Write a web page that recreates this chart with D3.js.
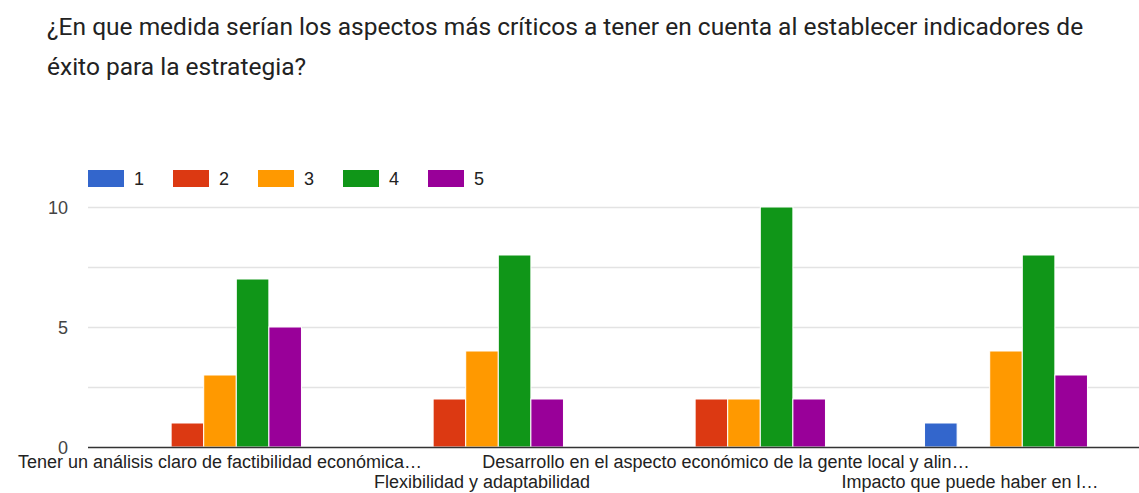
<!DOCTYPE html>
<html>
<head>
<meta charset="utf-8">
<script src="https://cdn.jsdelivr.net/npm/d3@7"></script>
<style>
	body { margin: 0; background: #fff; }
	svg { display: block; font-family: "Liberation Sans", Arial, sans-serif; }
</style>
</head>
<body>
<svg id="chart" width="1139" height="493"></svg>
<script>
(function () {
	const titleLines = ["¿En que medida serían los aspectos más críticos a tener en cuenta al establecer indicadores de", "éxito para la estrategia?"];
	const categories = [
		"Tener un análisis claro de factibilidad económica…",
		"Flexibilidad y adaptabilidad",
		"Desarrollo en el aspecto económico de la gente local y alin…",
		"Impacto que puede haber en l…"
	];
	const seriesNames = ["1", "2", "3", "4", "5"];
	const seriesColors = ["#3366cc", "#dc3912", "#ff9900", "#109618", "#990099"];
	// values per category, one per series 1..5
	const values1 = [0, 1, 3, 7, 5];
	const values2 = [0, 2, 4, 8, 2];
	const values3 = [0, 2, 2, 10, 2];
	const values4 = [1, 0, 4, 8, 3];
	const yTicks = [0, 5, 10];
	const yGrid = [2.5, 5, 7.5, 10];

	const allValues = [values1, values2, values3, values4];

	let svg = d3.select("#chart");

	// title
	svg.selectAll(".title")
		.data(titleLines)
		.enter()
		.append("text")
		.attr("class", "title")
		.attr("x", 47)
		.attr("y", function (d, i) { return 35 + i * 40; })
		.style("font-family", "Roboto, sans-serif")
		.style("font-size", "24.5px")
		.style("fill", "#222")
		.text(function (d) { return d; });

	let x0 = d3.scaleBand().domain(categories).range([89, 1137]);
	let x1 = d3.scaleBand().domain(seriesNames).range([0, x0.bandwidth()]).paddingOuter(1.52);
	let y = d3.scaleLinear().domain([0, 10]).range([447, 207]);

	// grid
	svg.selectAll(".grid")
		.data(yGrid)
		.enter()
		.append("line")
		.attr("x1", 88)
		.attr("x2", 1139)
		.attr("y1", function (d) { return y(d) + 0.5; })
		.attr("y2", function (d) { return y(d) + 0.5; })
		.style("stroke", "#e3e3e3")
		.style("stroke-width", 1.5);

	// y labels
	svg.selectAll(".ylab")
		.data(yTicks)
		.enter()
		.append("text")
		.attr("x", 68)
		.attr("y", function (d) { return y(d) + 6.5; })
		.attr("text-anchor", "end")
		.style("font-size", "18px")
		.style("fill", "#444")
		.text(function (d) { return d; });

	// bars
	let groups = svg.selectAll(".group")
		.data(categories)
		.enter()
		.append("g")
		.attr("transform", function (d) { return "translate(" + x0(d) + ",0)"; });

	groups.selectAll("rect")
		.data(function (d, i) {
			return allValues[i].map(function (v, j) { return { key: seriesNames[j], value: v, color: seriesColors[j] }; });
		})
		.enter()
		.filter(function (d) { return d.value > 0; })
		.append("rect")
		.attr("x", function (d) { return x1(d.key); })
		.attr("width", x1.bandwidth())
		.attr("y", function (d) { return y(d.value); })
		.attr("height", function (d) { return y(0) - y(d.value); })
		.style("fill", function (d) { return d.color; })
		.style("stroke", "#fff")
		.style("stroke-width", 1);

	// baseline
	svg.append("line")
		.attr("x1", 88)
		.attr("x2", 1139)
		.attr("y1", y(0) + 0.5)
		.attr("y2", y(0) + 0.5)
		.style("stroke", "#333")
		.style("stroke-width", 1.5);

	// x labels, alternating rows
	const labelDx = [0, 0, -18, -36];
	svg.selectAll(".xlab")
		.data(categories)
		.enter()
		.append("text")
		.attr("x", function (d, i) { return x0(d) + x0.bandwidth() / 2 + labelDx[i]; })
		.attr("y", function (d, i) { return i % 2 == 0 ? 468 : 488; })
		.attr("text-anchor", "middle")
		.style("font-size", "18px")
		.style("fill", "#222")
		.text(function (d) { return d; });

	// legend
	let legend = svg.selectAll(".legend")
		.data(seriesNames)
		.enter()
		.append("g")
		.attr("transform", function (d, i) { return "translate(" + (88 + i * 85) + ",170)"; });

	legend.append("rect")
		.attr("width", 36)
		.attr("height", 17)
		.style("fill", function (d, i) { return seriesColors[i]; });

	legend.append("text")
		.attr("x", 46)
		.attr("y", 15)
		.style("font-size", "18px")
		.style("fill", "#222")
		.text(function (d) { return d; });
})();
</script>
</body>
</html>
